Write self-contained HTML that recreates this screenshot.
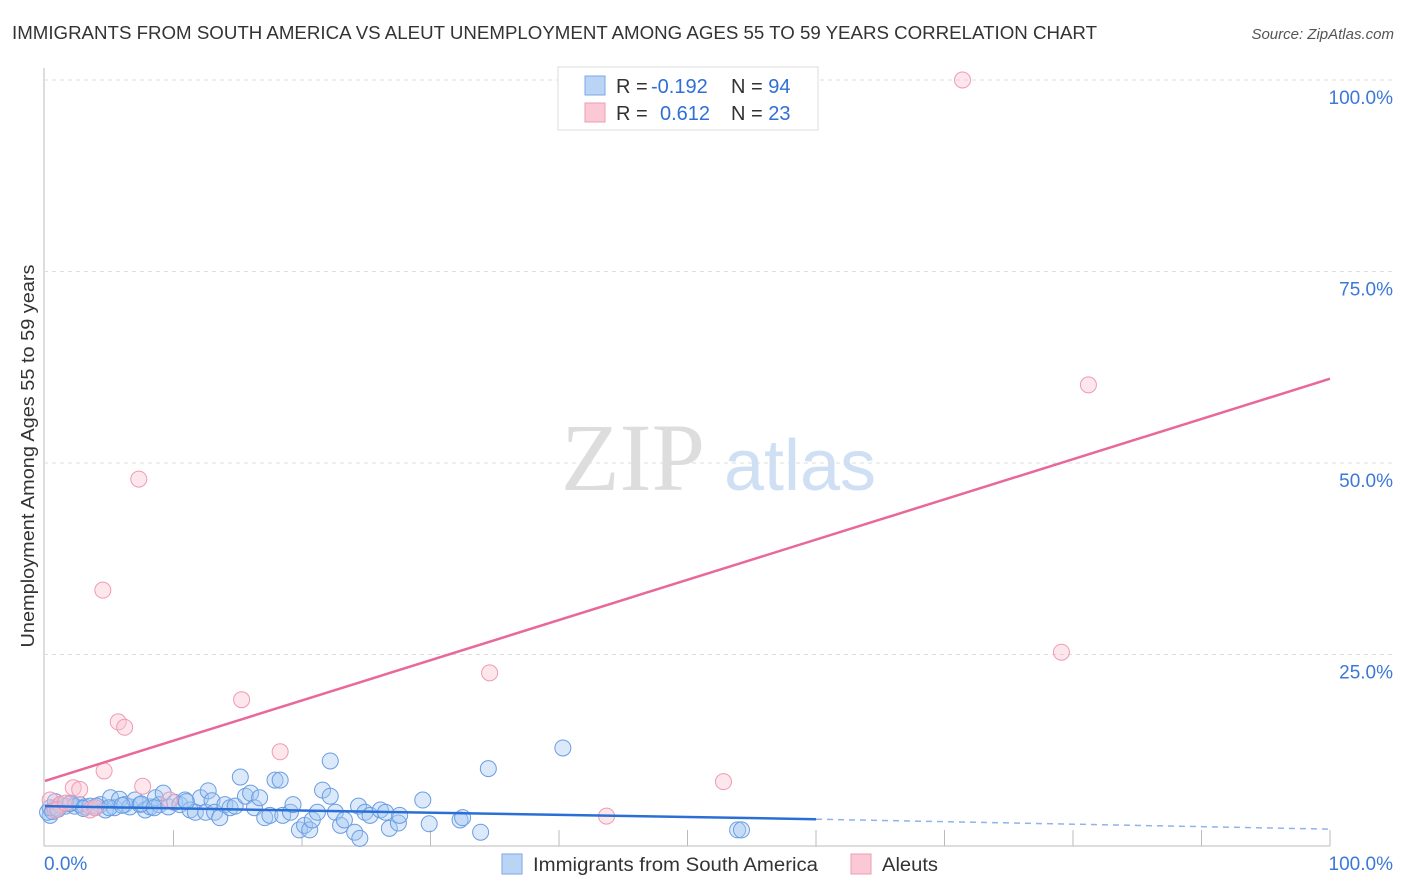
<!DOCTYPE html>
<html><head><meta charset="utf-8"><style>
body{margin:0;background:#fff;font-family:"Liberation Sans",sans-serif;}
#wrap{position:relative;width:1406px;height:892px;overflow:hidden;}
</style></head><body>
<div id="wrap">
<svg id="svg" width="1406" height="892" xmlns="http://www.w3.org/2000/svg">
<text x="12" y="39" font-size="18" fill="#333" textLength="1085" lengthAdjust="spacingAndGlyphs">IMMIGRANTS FROM SOUTH AMERICA VS ALEUT UNEMPLOYMENT AMONG AGES 55 TO 59 YEARS CORRELATION CHART</text>
<text x="1394" y="39" font-size="15" fill="#555" font-style="italic" text-anchor="end">Source: ZipAtlas.com</text>
<text x="633" y="490" font-size="96" fill="#ddd" font-family="Liberation Serif" text-anchor="middle">ZIP</text>
<text x="800" y="490" font-size="72" fill="#cfe0f5" text-anchor="middle">atlas</text>
<text transform="translate(34,456) rotate(-90)" font-size="18" fill="#333" text-anchor="middle" textLength="383" lengthAdjust="spacingAndGlyphs">Unemployment Among Ages 55 to 59 years</text>
<g id="grid"></g><g id="pts"></g><g id="lines"></g>
<g>
<rect x="558" y="67" width="260" height="63" fill="#fff" stroke="#ddd"/>
<rect x="585" y="76" width="20" height="19" fill="#b9d4f5" stroke="#7aa8e6"/>
<rect x="585" y="103" width="20" height="19" fill="#fbc8d6" stroke="#f09ab2"/>
<text x="616" y="93" font-size="20" fill="#333">R = <tspan fill="#2f6fd6" x="651">-0.192</tspan><tspan x="731">N = </tspan><tspan fill="#2f6fd6">94</tspan></text>
<text x="616" y="120" font-size="20" fill="#333">R = <tspan fill="#2f6fd6" x="660">0.612</tspan><tspan x="731">N = </tspan><tspan fill="#2f6fd6">23</tspan></text>
</g>
<g>
<rect x="502" y="854" width="20" height="20" fill="#b9d4f5" stroke="#7aa8e6"/>
<text x="533" y="871" font-size="19" fill="#333" textLength="285" lengthAdjust="spacingAndGlyphs">Immigrants from South America</text>
<rect x="851" y="854" width="20" height="20" fill="#fbc8d6" stroke="#f09ab2"/>
<text x="882" y="871" font-size="19" fill="#333" textLength="56" lengthAdjust="spacingAndGlyphs">Aleuts</text>
</g>
</svg></div>
<script>
const yTicks=[25,50,75,100];
const yTickLabels=["25.0%","50.0%","75.0%","100.0%"];
const blueX=[0.4,0.2,0.8,1.2,1.6,1.9,2.3,2.7,3.1,3.5,3.9,4.3,4.7,5.1,5.4,5.8,6.2,6.6,7.0,7.4,7.8,8.2,8.6,8.9,9.2,9.6,10.1,10.5,10.9,11.3,11.7,12.1,12.5,12.7,13.0,13.2,13.6,14.0,14.4,14.8,15.2,15.6,16.0,16.3,16.7,17.1,17.5,17.9,18.3,18.5,19.1,19.3,19.8,20.2,20.6,20.8,21.2,21.6,22.2,22.2,22.6,23.0,23.3,24.1,24.4,24.5,24.9,25.3,26.1,26.5,26.8,27.5,27.6,29.4,29.9,32.3,32.5,33.9,34.5,40.3,53.9,54.2,0.4,0.8,0.6,1.0,2.0,3.0,4.0,5.0,6.0,7.5,8.5,11.0];
const blueY=[4.0,4.4,5.0,5.4,5.2,5.5,5.2,5.4,5.1,5.2,5.0,5.4,4.7,6.3,5.0,6.1,5.4,5.1,6.0,5.4,4.7,5.1,6.3,5.4,6.9,5.1,5.7,5.4,6.0,4.7,4.4,6.3,4.4,7.2,5.9,4.4,3.7,5.4,5.0,5.2,9.0,6.5,6.9,5.0,6.3,3.7,4.0,8.6,8.6,4.0,4.4,5.4,2.1,2.7,2.1,3.4,4.4,7.3,6.5,11.1,4.4,2.7,3.4,1.8,5.2,1.0,4.4,4.0,4.7,4.4,2.3,3.0,4.0,6.0,2.9,3.4,3.7,1.8,10.1,12.8,2.1,2.1,5.0,5.8,4.5,4.8,5.6,4.9,5.2,5.0,5.3,5.5,5.0,5.8];
const pinkX=[71.4,81.2,79.1,7.3,4.5,15.3,34.6,5.7,6.2,18.3,4.6,52.8,7.6,2.2,2.7,43.7,0.4,1.2,3.5,3.9,9.7,0.8,1.6];
const pinkY=[100,60.2,25.3,47.9,33.4,19.1,22.6,16.2,15.5,12.3,9.8,8.4,7.8,7.6,7.4,3.9,6.0,5.4,4.7,5.0,6.0,4.7,5.6];
const blueLine=[[0,5.2],[60,3.5],[100,2.2]];
const pinkLine=[[0,8.5],[100,61]];
const X=v=>45+v*12.85, Y=v=>846-v*7.66;
const NS="http://www.w3.org/2000/svg";
function mk(t,a,p){const e=document.createElementNS(NS,t);for(const k in a)e.setAttribute(k,a[k]);p.appendChild(e);return e;}
const grid=document.getElementById('grid');
mk('line',{x1:44,y1:68,x2:44,y2:846,stroke:'#bbb'},grid);
mk('line',{x1:44,y1:846,x2:1330,y2:846,stroke:'#bbb'},grid);
for(let i=1;i<=10;i++){mk('line',{x1:X(i*10),y1:830,x2:X(i*10),y2:846,stroke:'#bbb'},grid);}
yTicks.forEach((t,i)=>{
 const g=mk('line',{x1:44,y1:Y(t),x2:1395,y2:Y(t),stroke:'#ddd','stroke-dasharray':'4,4'},grid);
 
 
 const tx=mk('text',{x:1393,y:Y(t)+24,'font-size':19,fill:'#3b78d8','text-anchor':'end'},grid);
 tx.textContent=yTickLabels[i];
 
 
});
const x0=mk('text',{x:44,y:870,'font-size':19,fill:'#3b78d8'},grid);x0.textContent='0.0%';


const x1=mk('text',{x:1393,y:870,'font-size':19,fill:'#3b78d8','text-anchor':'end'},grid);x1.textContent='100.0%';


const pts=document.getElementById('pts');
blueX.forEach((x,i)=>{const c=mk('circle',{cx:X(x),cy:Y(blueY[i]),r:8,fill:'rgba(165,200,242,0.4)',stroke:'#6a9de2','stroke-width':1},pts);
 
 });
pinkX.forEach((x,i)=>{const c=mk('circle',{cx:X(x),cy:Y(pinkY[i]),r:8,fill:'rgba(250,195,210,0.4)',stroke:'#ef9ab3','stroke-width':1},pts);
 
 });
const lines=document.getElementById('lines');
const b1=mk('line',{x1:X(blueLine[0][0]),y1:Y(blueLine[0][1]),x2:X(blueLine[1][0]),y2:Y(blueLine[1][1]),stroke:'#2b6fd6','stroke-width':2.5},lines);


const b2=mk('line',{x1:X(blueLine[1][0]),y1:Y(blueLine[1][1]),x2:X(blueLine[2][0]),y2:Y(blueLine[2][1]),stroke:'#8fb4e8','stroke-width':1.5,'stroke-dasharray':'6,5'},lines);


const p1=mk('line',{x1:X(pinkLine[0][0]),y1:Y(pinkLine[0][1]),x2:X(pinkLine[1][0]),y2:Y(pinkLine[1][1]),stroke:'#e8689a','stroke-width':2.5},lines);


</script>
</body></html>
